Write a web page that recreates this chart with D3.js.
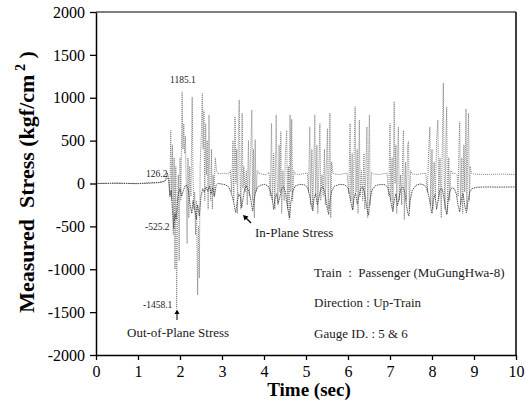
<!DOCTYPE html>
<html><head><meta charset="utf-8">
<script src="https://cdn.jsdelivr.net/npm/d3@7"></script>
<style>
body{margin:0;background:#fff;}
svg{display:block;}
svg text{font-family:"Liberation Serif","Times New Roman",serif !important;}
</style></head>
<body><svg id="c" width="526" height="414"></svg>
<script>
// ---- data ----
const xTicks = [0,1,2,3,4,5,6,7,8,9,10];
const yTicks = [-2000,-1500,-1000,-500,0,500,1000,1500,2000];

const outTime = [0,0.5,1.0,1.3,1.5,1.65,1.70,1.74,1.76,1.78,1.80,1.82,1.84,1.86,1.88,1.90,1.92,1.94,1.96,1.98,2.00,2.02,2.05,2.07,2.09,2.11,2.13,2.15,2.17,2.19,2.21,2.23,2.26,2.29,2.31,2.33,2.35,2.37,2.39,2.42,2.44,2.46,2.48,2.51,2.53,2.55,2.57,2.59,2.61,2.63,2.65,2.67,2.69,2.71,2.73,2.75,2.77,2.79,2.81,2.84,2.87,2.90,2.95,3.05,3.15,
3.20,3.23,3.26,3.28,3.31,3.33,3.35,3.37,3.39,3.41,3.43,3.45,3.48,3.50,3.52,3.55,3.58,3.60,3.63,3.65,3.68,3.71,3.73,3.75,3.77,3.79,3.81,3.84,3.88,3.95,4.05,4.12,
4.15,4.18,4.20,4.23,4.26,4.29,4.31,4.33,4.36,4.38,4.40,4.42,4.45,4.48,4.51,4.54,4.56,4.58,4.60,4.62,4.64,4.66,4.68,4.71,4.75,4.85,4.95,5.03,
5.06,5.09,5.11,5.14,5.16,5.19,5.21,5.23,5.26,5.28,5.31,5.33,5.35,5.38,5.41,5.44,5.46,5.49,5.51,5.53,5.55,5.57,5.59,5.61,5.64,5.68,5.80,5.90,5.98,
6.02,6.05,6.07,6.10,6.12,6.15,6.17,6.19,6.22,6.24,6.27,6.29,6.32,6.35,6.38,6.40,6.43,6.45,6.47,6.49,6.51,6.53,6.56,6.60,6.75,6.85,6.93,
6.97,7.00,7.02,7.05,7.07,7.10,7.12,7.14,7.16,7.18,7.20,7.22,7.25,7.28,7.30,7.32,7.34,7.37,7.39,7.42,7.44,7.46,7.49,7.53,7.65,7.75,7.85,
7.89,7.92,7.95,7.97,8.00,8.02,8.05,8.08,8.11,8.14,8.16,8.19,8.22,8.25,8.27,8.29,8.31,8.33,8.35,8.37,8.40,8.42,8.45,8.50,8.55,8.60,
8.62,8.64,8.66,8.68,8.71,8.73,8.76,8.78,8.81,8.83,8.85,8.87,8.89,8.91,8.94,9.0,9.3,9.6,10.0];
const outStress = [0,5,0,10,15,30,60,60,-150,620,-200,450,-600,300,-1000,200,-1458.1,-300,100,-900,300,-200,1070,400,700,350,550,-100,-700,300,-400,200,-150,1010,100,-300,-100,-600,-200,-1300,-500,-1100,200,600,1050,400,850,-200,700,100,500,-300,800,0,-200,400,-300,100,-150,300,150,120,115,120,110,
150,-100,500,-200,780,0,400,-350,600,975,100,-300,820,-50,200,-100,150,-250,500,-150,300,857,-200,400,-400,510,-100,150,120,110,100,130,
-150,700,-200,350,-300,800,100,-250,450,-100,605,-350,150,-200,350,620,-300,200,-420,800,-100,750,-200,150,110,105,115,120,
-100,660,-250,400,-300,300,800,-150,450,-350,250,700,-200,100,-150,400,-250,300,640,-300,200,820,-400,250,120,110,105,115,120,
-120,700,-200,350,-300,500,895,-100,400,-350,740,-150,150,-200,350,-300,250,660,-400,300,800,-250,130,110,105,115,120,
-150,700,-200,300,-300,955,0,450,-350,300,660,-200,100,-250,300,620,-420,250,-200,450,490,-300,150,110,105,115,120,
-100,350,660,-250,400,-300,250,-150,500,740,-200,300,-400,600,1170,100,-300,500,890,-350,300,-200,150,110,120,100,
-150,400,720,-250,300,-350,450,-100,870,-300,400,820,-200,200,120,110,105,110,105];

const inTime = [0,0.5,1.0,1.3,1.5,1.6,1.66,1.70,1.73,1.76,1.79,1.82,1.85,1.88,1.91,1.94,1.97,2.00,2.04,2.08,2.12,2.16,2.20,2.24,2.28,2.31,2.35,2.39,2.42,2.46,2.50,2.54,2.58,2.62,2.66,2.70,2.74,2.78,2.82,2.86,2.90,2.98,3.08,3.16,
3.22,3.27,3.30,3.33,3.36,3.40,3.44,3.47,3.50,3.54,3.58,3.62,3.66,3.70,3.73,3.76,3.80,3.85,3.92,4.02,4.10,
4.16,4.20,4.23,4.26,4.30,4.34,4.38,4.42,4.47,4.51,4.55,4.58,4.61,4.64,4.68,4.74,4.85,4.96,5.04,
5.09,5.13,5.16,5.19,5.23,5.27,5.31,5.35,5.40,5.44,5.48,5.51,5.54,5.57,5.61,5.68,5.80,5.92,6.00,
6.04,6.08,6.11,6.14,6.18,6.22,6.26,6.30,6.35,6.39,6.43,6.46,6.49,6.52,6.57,6.65,6.78,6.88,6.95,
7.00,7.04,7.07,7.10,7.14,7.18,7.22,7.26,7.31,7.35,7.39,7.42,7.45,7.48,7.53,7.62,7.72,7.82,7.88,
7.93,7.97,8.00,8.03,8.07,8.11,8.15,8.19,8.24,8.28,8.32,8.35,8.38,8.42,8.47,8.53,8.58,8.62,8.66,8.70,8.74,8.78,8.82,8.86,8.90,8.95,9.05,9.3,9.6,10.0];
const inStress = [0,3,-2,5,10,20,40,126.2,30,-150,-80,-300,-525.2,-350,-420,-200,-100,-60,-150,-80,-30,-20,-80,-250,-350,-200,-300,-420,-250,-380,-150,-60,-100,-40,-90,-30,-120,-50,-150,-20,0,-5,-15,-40,
-110,-200,-280,-340,-220,-120,-160,-280,-180,-60,-30,-70,-120,-230,-320,-200,-100,-40,-20,-10,-30,
-100,-200,-300,-180,-120,-230,-150,-60,-40,-100,-240,-330,-400,-220,-100,-30,-10,-15,-50,
-150,-260,-320,-180,-120,-250,-160,-60,-40,-90,-200,-300,-360,-200,-90,-30,-10,-15,-50,
-140,-250,-310,-180,-110,-240,-150,-60,-40,-100,-220,-320,-370,-200,-80,-25,-10,-15,-50,
-150,-270,-330,-200,-120,-260,-160,-60,-40,-100,-250,-340,-380,-200,-80,-20,-5,-20,-60,
-160,-280,-350,-200,-130,-300,-180,-70,-60,-150,-280,-360,-220,-100,-50,-60,-120,-250,-330,-180,-120,-260,-340,-200,-100,-60,-45,-40,-42,-40];

// ---- layout ----
const FONT = "'Liberation Serif','Times New Roman',serif";
const svg = d3.select("#c");
const x = d3.scaleLinear().domain([0,10]).range([96,516]);
const y = d3.scaleLinear().domain([-2000,2000]).range([355,12]);

svg.append("defs").append("clipPath").attr("id","clip")
  .append("rect").attr("x",96).attr("y",12).attr("width",420).attr("height",343);

const line = d3.line().x(d=>x(d[0])).y(d=>y(d[1]));
const outData = outTime.map((t,i)=>[t,outStress[i]]);
const inData = inTime.map((t,i)=>[t,inStress[i]]);

const g = svg.append("g").attr("clip-path","url(#clip)");
g.append("path").datum(outData).attr("d",line)
  .attr("fill","none").attr("stroke","#808080").attr("stroke-width",1).attr("stroke-dasharray","1,1");
g.append("path").datum(inData).attr("d",line)
  .attr("fill","none").attr("stroke","#404040").attr("stroke-width",0.9).attr("stroke-dasharray","1.5,0.8");

// frame
svg.append("line").attr("x1",96).attr("x2",516).attr("y1",12).attr("y2",12).attr("stroke","#000").attr("stroke-width",1.2);
svg.append("line").attr("x1",516).attr("x2",516).attr("y1",12).attr("y2",355).attr("stroke","#000").attr("stroke-width",1.5);

// axes
const ax = svg.append("g").attr("transform","translate(0,355)")
  .call(d3.axisBottom(x).tickValues(xTicks).tickSize(5).tickSizeOuter(0).tickPadding(6).tickFormat(d3.format("d")));
const ay = svg.append("g").attr("transform","translate(96,0)")
  .call(d3.axisLeft(y).tickValues(yTicks).tickSize(6).tickSizeOuter(0).tickPadding(5).tickFormat(d3.format("d")));
[ax,ay].forEach(a=>{
  a.attr("font-family",FONT).attr("font-size",16);
  a.select(".domain").attr("stroke","#000").attr("stroke-width",1.5);
  a.selectAll(".tick line").attr("stroke","#000").attr("stroke-width",1.3);
  a.selectAll(".tick text").style("font-family",FONT).attr("font-size",16).attr("fill","#000");
});
ay.selectAll(".tick text").text(d=>d<0?"-"+Math.abs(d):d);

// axis titles
svg.append("text").attr("x",309).attr("y",396).attr("text-anchor","middle")
  .style("font-family",FONT).attr("font-size",19).attr("font-weight","bold").text("Time (sec)");
const yt = svg.append("text").attr("transform","translate(34,182) rotate(-90)")
  .attr("text-anchor","middle").attr("font-size",22).attr("font-weight","bold")
  .style("font-family",FONT).style("white-space","pre");
yt.append("tspan").text("Measured  Stress (kgf/cm");
yt.append("tspan").attr("dy",-9).attr("font-size",14).text(" 2");
yt.append("tspan").attr("dy",9).text(" )");

// annotations
const ann = [
  {t:"1185.1", x:170, y:83, s:9.5},
  {t:"126.2", x:146, y:177, s:9.5},
  {t:"-525.2", x:145, y:230, s:9.5},
  {t:"-1458.1", x:143, y:308, s:9.5},
  {t:"Out-of-Plane Stress", x:127, y:337, s:13},
  {t:"In-Plane Stress", x:255, y:237, s:13},
  {t:"Train  :  Passenger (MuGungHwa-8)", x:314, y:277, s:13},
  {t:"Direction : Up-Train", x:314, y:307, s:13},
  {t:"Gauge ID. : 5 & 6", x:314, y:338, s:13}
];
svg.selectAll("text.ann").data(ann).enter().append("text").attr("class","ann")
  .attr("x",d=>d.x).attr("y",d=>d.y).attr("font-size",d=>d.s).attr("fill","#1a1a1a")
  .style("font-family",FONT).style("white-space","pre").text(d=>d.t);

// arrows
svg.append("line").attr("x1",177).attr("y1",320).attr("x2",177).attr("y2",312).attr("stroke","#000").attr("stroke-width",1);
svg.append("path").attr("d","M174.5,314 L177,309.5 L179.5,314 Z").attr("fill","#000");
svg.append("line").attr("x1",251).attr("y1",223).attr("x2",245).attr("y2",217).attr("stroke","#000").attr("stroke-width",1.3);
svg.append("path").attr("d","M243,215 L248.5,216.5 L244.5,220.5 Z").attr("fill","#000");
</script></body></html>
